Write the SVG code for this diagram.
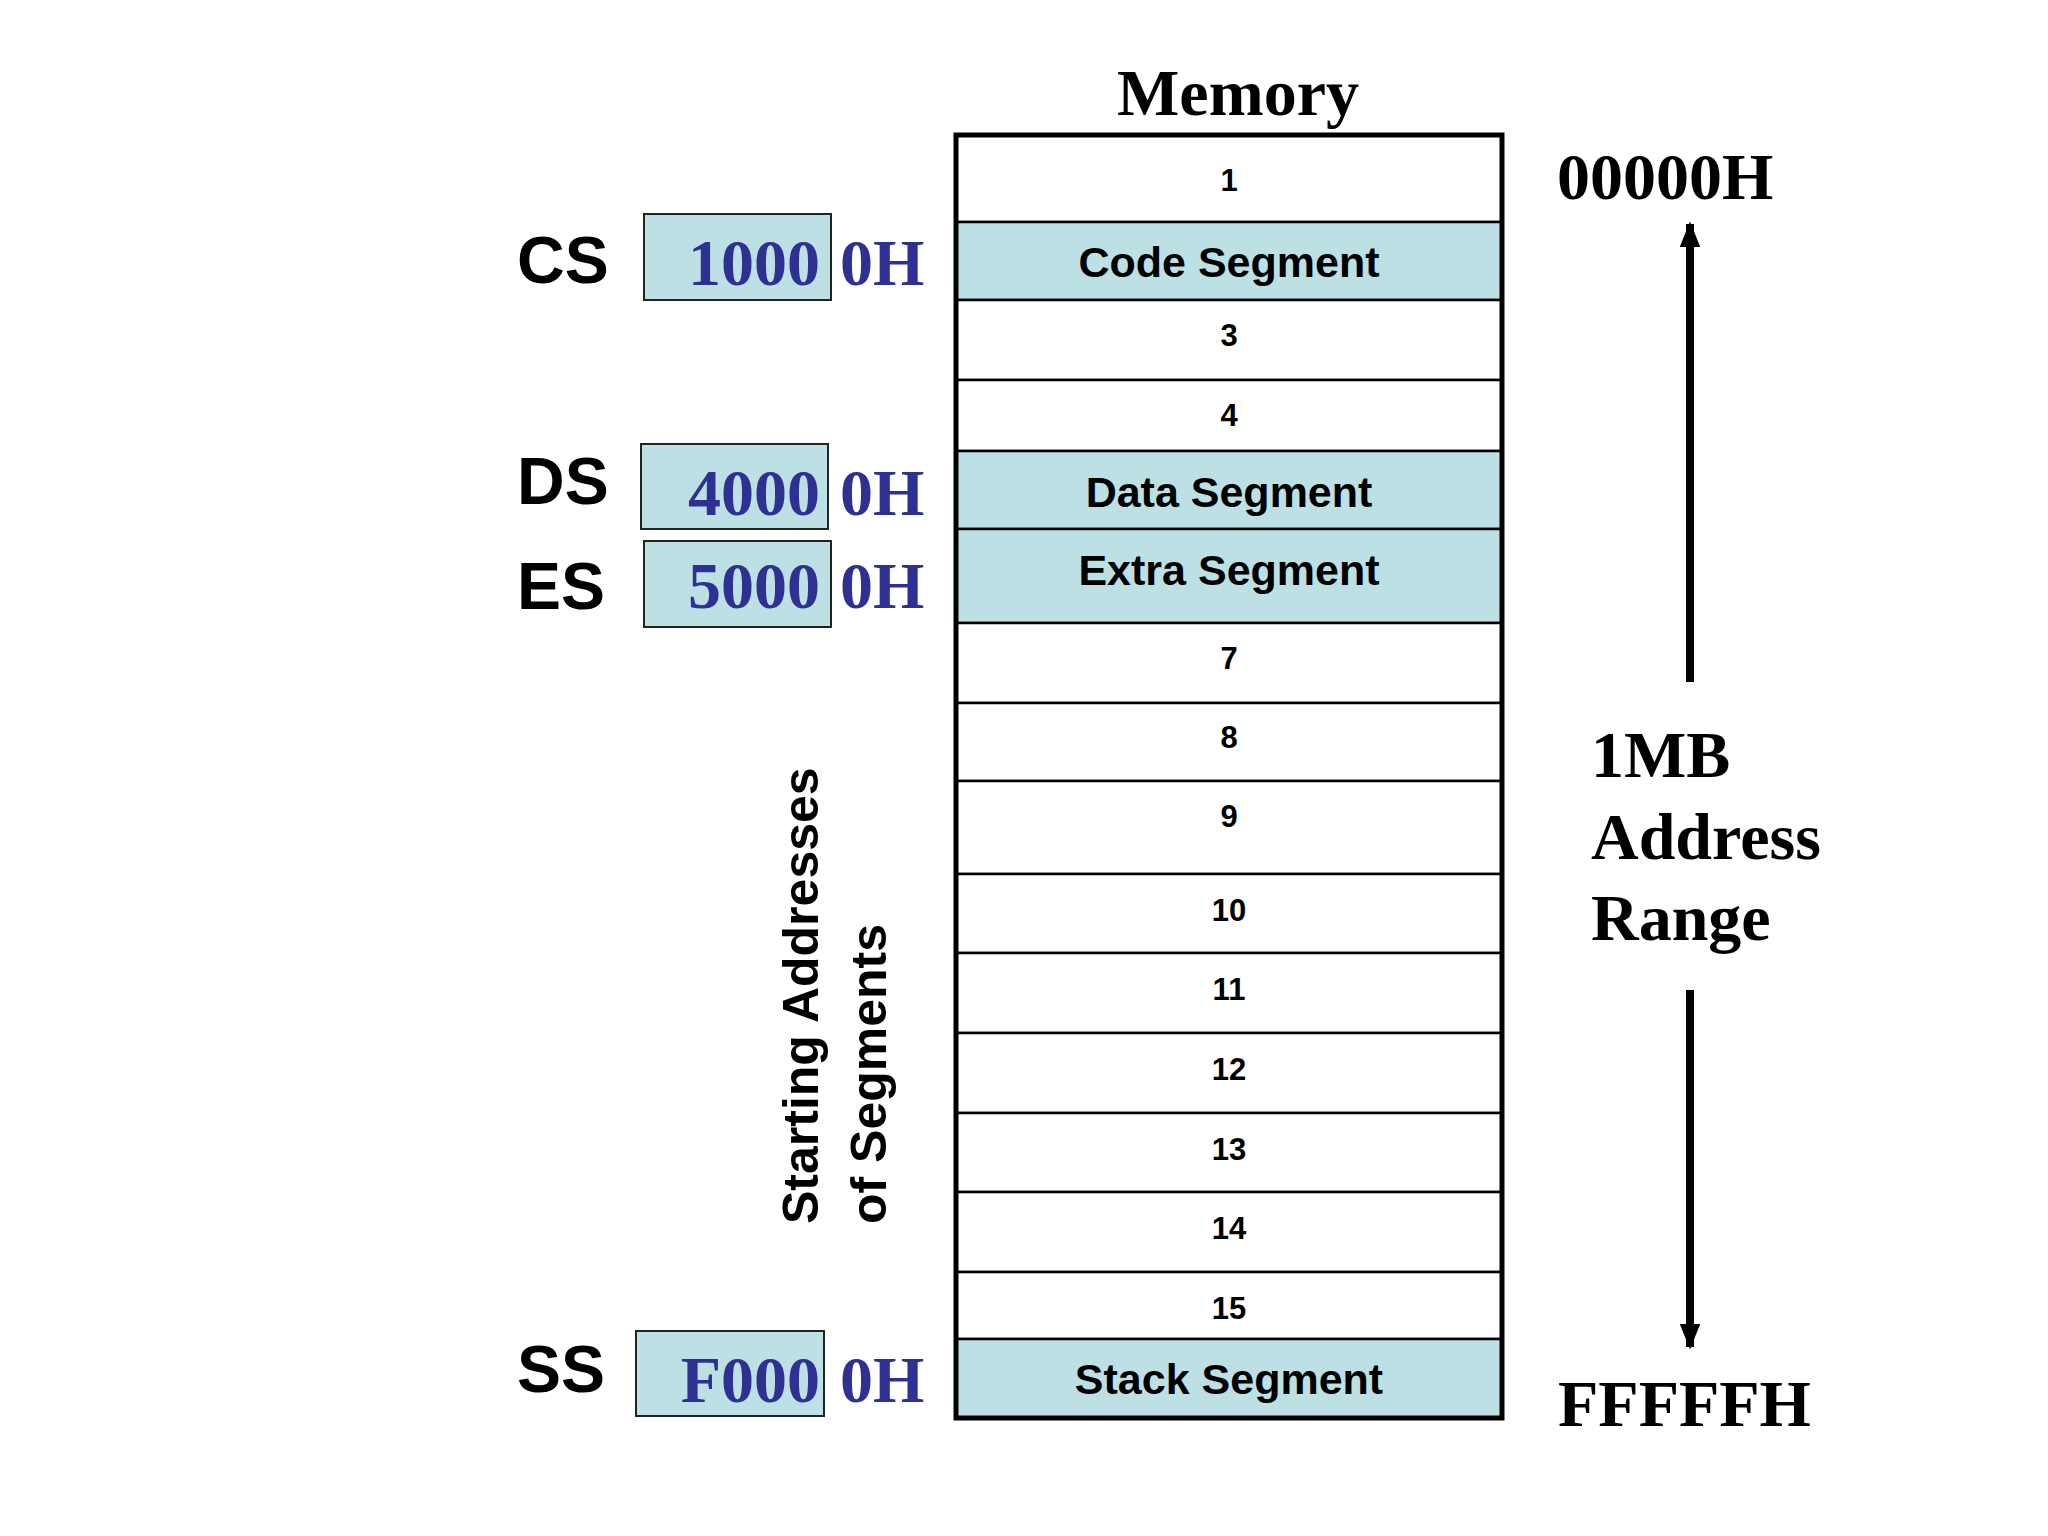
<svg xmlns="http://www.w3.org/2000/svg" width="2048" height="1536" viewBox="0 0 2048 1536">
<style>
.num{font-family:"Liberation Sans",Arial,sans-serif;font-weight:bold;font-size:31px;text-anchor:middle;fill:#000}
.seg{font-family:"Liberation Sans",Arial,sans-serif;font-weight:bold;font-size:43px;text-anchor:middle;fill:#000}
.reg{font-family:"Liberation Sans",Arial,sans-serif;font-weight:bold;font-size:66px;fill:#000}
.val{font-family:"Liberation Serif","Times New Roman",serif;font-weight:bold;font-size:66px;fill:#2e3192}
.big{font-family:"Liberation Serif","Times New Roman",serif;font-weight:bold;font-size:66px;fill:#000}
.rot{font-family:"Liberation Sans",Arial,sans-serif;font-weight:bold;font-size:50px;fill:#000}
.w{fill:#fff;stroke:#000;stroke-width:2.5}
.f{fill:#bce0e3;stroke:#000;stroke-width:2.5}
.box{fill:#bce0e3;stroke:#222;stroke-width:2}
</style>
<defs><marker id="ah" markerWidth="8" markerHeight="8" refX="4" refY="4" orient="auto" markerUnits="userSpaceOnUse" viewBox="0 0 8 8"><path d="M0,0 L8,4 L0,8 z" fill="#000"/></marker>
<marker id="a" viewBox="0 0 10 10" refX="9" refY="5" markerWidth="26" markerHeight="26" markerUnits="userSpaceOnUse" orient="auto"><path d="M0,1 L10,5 L0,9 z" fill="#000"/></marker></defs>
<rect width="2048" height="1536" fill="#fff"/>
<text class="big" x="1238" y="115" text-anchor="middle">Memory</text>
<g id="memory">
<rect class="w" x="956" y="135" width="546" height="87"/>
<rect class="f" x="956" y="222" width="546" height="78"/>
<rect class="w" x="956" y="300" width="546" height="80"/>
<rect class="w" x="956" y="380" width="546" height="71"/>
<rect class="f" x="956" y="451" width="546" height="78"/>
<rect class="f" x="956" y="529" width="546" height="94"/>
<rect class="w" x="956" y="623" width="546" height="80"/>
<rect class="w" x="956" y="703" width="546" height="78"/>
<rect class="w" x="956" y="781" width="546" height="93"/>
<rect class="w" x="956" y="874" width="546" height="79"/>
<rect class="w" x="956" y="953" width="546" height="80"/>
<rect class="w" x="956" y="1033" width="546" height="80"/>
<rect class="w" x="956" y="1113" width="546" height="79"/>
<rect class="w" x="956" y="1192" width="546" height="80"/>
<rect class="w" x="956" y="1272" width="546" height="67"/>
<rect class="f" x="956" y="1339" width="546" height="79"/>
<rect x="956" y="135" width="546" height="1283" fill="none" stroke="#000" stroke-width="5"/>
<text class="num" x="1229" y="191">1</text>
<text class="seg" x="1229" y="277">Code Segment</text>
<text class="num" x="1229" y="346">3</text>
<text class="num" x="1229" y="426">4</text>
<text class="seg" x="1229" y="507">Data Segment</text>
<text class="seg" x="1229" y="585">Extra Segment</text>
<text class="num" x="1229" y="669">7</text>
<text class="num" x="1229" y="748">8</text>
<text class="num" x="1229" y="827">9</text>
<text class="num" x="1229" y="921">10</text>
<text class="num" x="1229" y="1000">11</text>
<text class="num" x="1229" y="1080">12</text>
<text class="num" x="1229" y="1160">13</text>
<text class="num" x="1229" y="1239">14</text>
<text class="num" x="1229" y="1319">15</text>
<text class="seg" x="1229" y="1394">Stack Segment</text>
</g>
<g id="cs"><text class="reg" x="517" y="283">CS</text><rect class="box" x="644" y="214" width="187" height="86"/><text class="val" x="820" y="285" text-anchor="end">1000</text><text class="val" x="840" y="285">0H</text></g>
<g id="ds"><text class="reg" x="517" y="504">DS</text><rect class="box" x="641" y="444" width="187" height="85"/><text class="val" x="820" y="515" text-anchor="end">4000</text><text class="val" x="840" y="515">0H</text></g>
<g id="es"><text class="reg" x="517" y="609">ES</text><rect class="box" x="644" y="541" width="187" height="86"/><text class="val" x="820" y="608" text-anchor="end">5000</text><text class="val" x="840" y="608">0H</text></g>
<g id="ss"><text class="reg" x="517" y="1392">SS</text><rect class="box" x="636" y="1331" width="188" height="85"/><text class="val" x="820" y="1402" text-anchor="end">F000</text><text class="val" x="840" y="1402">0H</text></g>
<g id="caption">
<text class="rot" transform="translate(818,1224) rotate(-90)">Starting Addresses</text>
<text class="rot" transform="translate(886,1224) rotate(-90)">of Segments</text>
</g>
<g id="range">
<text class="big" x="1557" y="199">00000H</text>
<text class="big" x="1591" y="777">1MB</text>
<text class="big" x="1591" y="859">Address</text>
<text class="big" x="1591" y="940">Range</text>
<text class="big" x="1558" y="1426">FFFFFH</text>
</g>
<g id="connectors" stroke="#000" stroke-width="8">
<line x1="1690" y1="682" x2="1690" y2="224" marker-end="url(#a)"/>
<line x1="1690" y1="990" x2="1690" y2="1347" marker-end="url(#a)"/>
</g>
</svg>
